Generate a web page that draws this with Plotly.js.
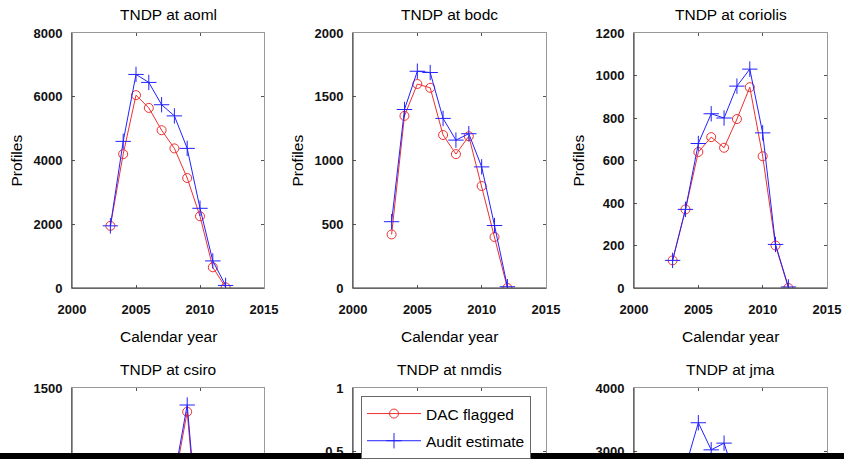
<!DOCTYPE html>
<html>
<head>
<meta charset="utf-8">
<script src="https://cdn.plot.ly/plotly-3.0.1.min.js"></script>
<style>
  html, body { margin: 0; padding: 0; background: #fff; overflow: hidden; }
  #chart { width: 844px; height: 459px; }
</style>
</head>
<body>
<div id="chart"></div>
<script>
// ---- data (hidden parts of the lower row are estimates) ----
const years = [2003, 2004, 2005, 2006, 2007, 2008, 2009, 2010, 2011, 2012];
const centres = ["aoml", "bodc", "coriolis", "csiro", "nmdis", "jma"];
const aomlDac      = [1950, 4200, 6050, 5650, 4950, 4380, 3450, 2250, 650, 20];
const aomlAudit    = [1950, 4600, 6700, 6450, 5750, 5400, 4380, 2500, 850, 80];
const bodcDac      = [420, 1350, 1600, 1570, 1200, 1050, 1190, 800, 400, 0];
const bodcAudit    = [520, 1400, 1700, 1690, 1330, 1160, 1210, 950, 490, 10];
const coriolisDac  = [130, 370, 640, 710, 660, 795, 945, 620, 200, 0];
const coriolisAudit= [130, 370, 680, 820, 800, 950, 1030, 730, 205, 5];
const csiroDac     = [150, 300, 450, 550, 650, 950, 1360, 510, 200, 0];
const csiroAudit   = [160, 320, 480, 600, 700, 980, 1400, 530, 210, 5];
const nmdisDac     = [0, 0, 0, 0, 0, 0, 0, 0, 0, 0];
const nmdisAudit   = [0, 0, 0, 0, 0, 0, 0, 0, 0, 0];
const jmaDac       = [1500, 2400, 2800, 2600, 2700, 2300, 1800, 1200, 500, 0];
const jmaAudit     = [1800, 2760, 3455, 3030, 3135, 2500, 2000, 1400, 600, 10];
const xTicks = [2000, 2005, 2010, 2015];
const yMax   = [8000, 2000, 1200, 1500, 1, 4000];
const yMin   = [0, 0, 0, 0, -1, 0];
const yStep  = [2000, 500, 200, 500, 0.5, 1000];
const seriesNames = ["DAC flagged", "Audit estimate"];

const dacSets   = [aomlDac, bodcDac, coriolisDac, csiroDac, nmdisDac, jmaDac];
const auditSets = [aomlAudit, bodcAudit, coriolisAudit, csiroAudit, nmdisAudit, jmaAudit];

// ---- layout geometry (pixels) ----
const W = 844, H = 459;
const px = v => v / W;
const py = v => 1 - v / H;
const colL = [72, 353, 634], colR = [264, 546, 827];
const rowTop = [33, 388], axH = 255;

const RED = "#ee3030", BLUE = "#2222ff";
const FONT = "Liberation Sans, Arial, Helvetica, sans-serif";
const labelFont = {family: FONT, size: 15.5, color: "#000"};

const traces = [];
const layout = {
  width: W, height: H,
  margin: {l: 0, r: 0, t: 0, b: 0},
  paper_bgcolor: "#fff", plot_bgcolor: "#fff",
  font: {family: FONT, color: "#111"},
  showlegend: true,
  legend: {
    x: px(361), y: py(396), xanchor: "left", yanchor: "top",
    bgcolor: "#fff", bordercolor: "#666", borderwidth: 1,
    font: {family: FONT, size: 15.5, color: "#000"},
    itemwidth: 54, tracegroupgap: 4, entrywidth: 116
  },
  annotations: [], shapes: []
};

for (let i = 0; i < 6; i++) {
  const r = Math.floor(i / 3), c = i % 3;
  const n = i === 0 ? "" : String(i + 1);
  const xa = "x" + n, ya = "y" + n;
  const top = rowTop[r];
  const bottomPx = r === 0 ? top + axH : H;           // lower row continues below the picture
  const visFrac = (bottomPx - top) / axH;
  const yLo = yMax[i] - (yMax[i] - yMin[i]) * visFrac;

  layout["xaxis" + n] = {
    domain: [px(colL[c]), px(colR[c])], anchor: ya,
    range: [2000, 2015], tickvals: xTicks, ticktext: xTicks.map(String),
    ticks: "inside", ticklen: 3, tickcolor: "#555", tickwidth: 1,
    showline: true, linecolor: "#999", linewidth: 1, mirror: "ticks",
    showgrid: false, zeroline: false, fixedrange: true,
    showticklabels: r === 0, ticklabelstandoff: 9,
    tickfont: {family: FONT, size: 13, color: "#111", weight: "bold"}
  };
  layout["yaxis" + n] = {
    domain: [py(bottomPx), py(top)], anchor: xa,
    range: [yLo, yMax[i]], dtick: yStep[i], tick0: 0,
    ticks: "inside", ticklen: 3, tickcolor: "#555", tickwidth: 1,
    showline: true, linecolor: "#999", linewidth: 1, mirror: "ticks",
    showgrid: false, zeroline: false, fixedrange: true,
    ticklabelstandoff: 6, ticklabeloverflow: "allow",
    tickfont: {family: FONT, size: 13, color: "#111", weight: "bold"}
  };
  // darker left / bottom axis lines
  layout.shapes.push({type: "line", xref: xa + " domain", yref: ya + " domain",
    x0: 0, x1: 0, y0: 0, y1: 1, line: {color: "#333", width: 1}, layer: "above"});
  layout.shapes.push({type: "line", xref: xa + " domain", yref: ya + " domain",
    x0: 0, x1: 1, y0: 0, y1: 0, line: {color: "#333", width: 1}, layer: "above"});

  traces.push({
    type: "scatter", mode: "lines+markers", name: seriesNames[0],
    x: years, y: dacSets[i], xaxis: xa, yaxis: ya, cliponaxis: true,
    line: {color: RED, width: 1},
    marker: {symbol: "circle-open", size: 9, color: RED, line: {width: 1, color: RED}},
    showlegend: i === 4, legendgroup: "dac"
  });
  traces.push({
    type: "scatter", mode: "lines+markers", name: seriesNames[1],
    x: years, y: auditSets[i], xaxis: xa, yaxis: ya, cliponaxis: true,
    line: {color: BLUE, width: 1},
    marker: {symbol: "cross-thin-open", size: 11, color: BLUE, line: {width: 1, color: BLUE}},
    showlegend: i === 4, legendgroup: "audit"
  });

  const cx = (colL[c] + colR[c]) / 2;
  layout.annotations.push({
    text: "TNDP at " + centres[i], xref: "paper", yref: "paper",
    x: px(cx), y: py(top - 18.5), xanchor: "center", yanchor: "middle",
    showarrow: false, font: labelFont
  });
  if (r === 0) {
    layout.annotations.push({
      text: "Calendar year", xref: "paper", yref: "paper",
      x: px(cx), y: py(336), xanchor: "center", yanchor: "middle",
      showarrow: false, font: labelFont
    });
    layout.annotations.push({
      text: "Profiles", xref: "paper", yref: "paper", textangle: -90,
      x: px(colL[c] - 56), y: py(top + axH / 2), xanchor: "center", yanchor: "middle",
      showarrow: false, font: labelFont
    });
  }
}

// black strip along the bottom edge of the picture
layout.shapes.push({type: "rect", xref: "paper", yref: "paper",
  x0: -0.01, x1: 1.01, y0: py(453), y1: -0.05, fillcolor: "#000",
  line: {width: 0}, layer: "above"});

Plotly.newPlot("chart", traces, layout, {displayModeBar: false, staticPlot: true});
</script>
</body>
</html>
